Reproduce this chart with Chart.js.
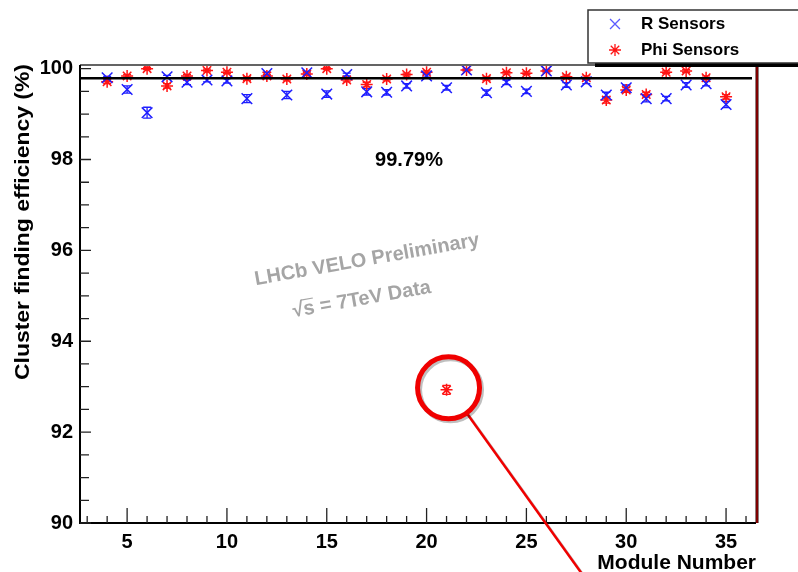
<!DOCTYPE html>
<html lang="en">
<head>
  <meta charset="UTF-8">
  <title>Cluster finding efficiency</title>
  <script src="https://cdn.jsdelivr.net/npm/chart.js"></script>
  <style>
    html, body { margin: 0; padding: 0; background: #fff; }
    canvas { display: block; }
  </style>
</head>
<body>
  <canvas id="effChart" width="798" height="572"></canvas>

  <script>
    // values
    const modules = [4, 5, 6, 7, 8, 9, 10, 11, 12, 13, 14, 15, 16, 17, 18, 19,
                     20, 21, 22, 23, 24, 25, 26, 27, 28, 29, 30, 31, 32, 33, 34, 35];
    const rEff   = [99.80, 99.54, 99.03, 99.82, 99.70, 99.75, 99.73, 99.34, 99.89, 99.42, 99.91, 99.44, 99.87, 99.49, 99.48, 99.62,
                    99.84, 99.58, 99.97, 99.47, 99.70, 99.50, 99.95, 99.64, 99.71, 99.42, 99.58, 99.34, 99.34, 99.64, 99.67, 99.21];
    const rErr   = [0.03, 0.08, 0.12, 0.03, 0.05, 0.04, 0.05, 0.09, 0.03, 0.08, 0.03, 0.07, 0.03, 0.07, 0.06, 0.05,
                    0.03, 0.05, 0.02, 0.06, 0.05, 0.05, 0.02, 0.05, 0.04, 0.06, 0.06, 0.07, 0.05, 0.05, 0.05, 0.07];
    const phiEff = [99.71, 99.84, 100.00, 99.62, 99.84, 99.96, 99.92, 99.78, 99.84, 99.77, 99.88, 100.00, 99.75, 99.65, 99.77, 99.87,
                    99.92, 92.93, 99.97, 99.78, 99.91, 99.90, 99.95, 99.82, 99.80, 99.31, 99.53, 99.43, 99.92, 99.95, 99.80, 99.38];
    const phiErr = [0.04, 0.03, 0.02, 0.05, 0.03, 0.03, 0.03, 0.04, 0.03, 0.04, 0.03, 0.02, 0.04, 0.05, 0.04, 0.03,
                    0.03, 0.10, 0.02, 0.04, 0.03, 0.03, 0.02, 0.04, 0.04, 0.07, 0.05, 0.05, 0.03, 0.03, 0.04, 0.05];
    const meanEff = 99.79;
    const badModule = 21;
    const xTicks = [5, 10, 15, 20, 25, 30, 35];
    const yTicks = [90, 92, 94, 96, 98, 100];

    const FONT = "'Liberation Sans', Arial, Helvetica, sans-serif";
    const BLUE = 'rgb(30, 30, 255)';
    const RED = 'rgb(255, 20, 20)';

    function points(vals, errs) {
      return modules.map((m, i) => ({ x: m, y: vals[i], err: errs[i] }));
    }

    // vertical error bars with end caps, ROOT style
    const errorBars = {
      id: 'errorBars',
      beforeDatasetsDraw(chart) {
        const { ctx, scales: { x, y } } = chart;
        chart.data.datasets.forEach((ds) => {
          ctx.save();
          ctx.strokeStyle = ds.borderColor;
          ctx.lineWidth = 1.3;
          ds.data.forEach((p) => {
            const px = x.getPixelForValue(p.x);
            const top = y.getPixelForValue(p.y + p.err);
            const bot = y.getPixelForValue(p.y - p.err);
            ctx.beginPath();
            ctx.moveTo(px, top); ctx.lineTo(px, bot);
            ctx.moveTo(px - 4, top); ctx.lineTo(px + 4, top);
            ctx.moveTo(px - 4, bot); ctx.lineTo(px + 4, bot);
            ctx.stroke();
          });
          ctx.restore();
        });
      }
    };

    // frame, ticks, mean line, labels, legend and the highlight circle
    const overlay = {
      id: 'overlay',
      afterDraw(chart) {
        const { ctx, chartArea: a, scales: { x, y } } = chart;
        ctx.save();

        // top frame line (grey)
        ctx.strokeStyle = 'rgb(100,100,100)';
        ctx.lineWidth = 2;
        ctx.beginPath(); ctx.moveTo(a.left, a.top); ctx.lineTo(a.right, a.top); ctx.stroke();

        // left and bottom axis lines
        ctx.strokeStyle = '#000';
        ctx.lineWidth = 2;
        ctx.beginPath();
        ctx.moveTo(a.left, a.top); ctx.lineTo(a.left, a.bottom); ctx.lineTo(a.right, a.bottom);
        ctx.stroke();

        // inward ticks
        ctx.lineWidth = 1.3;
        ctx.strokeStyle = '#222';
        ctx.beginPath();
        for (let v = 90; v <= 100.001; v += 0.5) {
          const py = y.getPixelForValue(v);
          const len = (Math.abs(v % 2) < 0.01) ? 11 : 9;
          ctx.moveTo(a.left, py); ctx.lineTo(a.left + len, py);
        }
        for (let v = 3; v <= 36; v += 1) {
          const px = x.getPixelForValue(v);
          const len = (v % 5 === 0) ? 15 : 7;
          ctx.moveTo(px, a.bottom); ctx.lineTo(px, a.bottom - len);
        }
        ctx.stroke();

        // right frame line (red with dark edges)
        ctx.strokeStyle = '#200';
        ctx.lineWidth = 3;
        ctx.beginPath(); ctx.moveTo(a.right + 1, a.top); ctx.lineTo(a.right + 1, a.bottom); ctx.stroke();
        ctx.strokeStyle = 'rgb(220,0,0)';
        ctx.lineWidth = 1;
        ctx.beginPath(); ctx.moveTo(a.right + 1, a.top); ctx.lineTo(a.right + 1, a.bottom); ctx.stroke();

        // mean line
        const my = y.getPixelForValue(meanEff);
        ctx.strokeStyle = '#000';
        ctx.lineWidth = 2.5;
        ctx.beginPath(); ctx.moveTo(a.left, my); ctx.lineTo(a.right - 4, my); ctx.stroke();

        // texts
        ctx.fillStyle = '#000';
        ctx.font = 'bold 20px ' + FONT;
        ctx.textAlign = 'center';
        ctx.textBaseline = 'middle';
        ctx.fillText(meanEff.toFixed(2) + '%', 409, 160);

        ctx.font = 'bold 21px ' + FONT;
        ctx.textAlign = 'right';
        ctx.textBaseline = 'alphabetic';
        ctx.fillText('Module Number', a.right, 569);

        // y title, stretched to the reference length
        ctx.save();
        ctx.translate(29, 222);
        ctx.rotate(-Math.PI / 2);
        ctx.font = 'bold 20px ' + FONT;
        const yt = 'Cluster finding efficiency (%)';
        const sc = 316 / ctx.measureText(yt).width;
        ctx.scale(sc, 1);
        ctx.textAlign = 'center';
        ctx.textBaseline = 'alphabetic';
        ctx.fillText(yt, 0, 0);
        ctx.restore();

        // watermark
        ctx.save();
        ctx.fillStyle = 'rgb(165,165,165)';
        ctx.strokeStyle = 'rgb(165,165,165)';
        ctx.font = 'bold 20px ' + FONT;
        ctx.textAlign = 'center';
        ctx.textBaseline = 'middle';
        ctx.translate(367, 260);
        ctx.rotate(-10 * Math.PI / 180);
        ctx.fillText('LHCb VELO Preliminary', 0, 0);
        ctx.translate(-12, 38);
        const wm = '\u221As = 7TeV Data';
        ctx.fillText(wm, 0, 0);
        const w0 = ctx.measureText(wm).width;
        const wRoot = ctx.measureText('\u221A').width;
        const wS = ctx.measureText('s').width;
        ctx.lineWidth = 1.2;
        ctx.beginPath();
        ctx.moveTo(-w0 / 2 + wRoot - 1, -10); ctx.lineTo(-w0 / 2 + wRoot + wS, -10);
        ctx.stroke();
        ctx.restore();

        // highlight circle around the bad module
        const cx = x.getPixelForValue(badModule) + 2;
        const cy = y.getPixelForValue(phiEff[modules.indexOf(badModule)]) - 2;
        const r = 31;
        const ang = Math.atan2(184, 132);
        ctx.save();
        ctx.strokeStyle = 'rgb(240,0,0)';
        ctx.shadowColor = 'rgba(0,0,0,0.25)';
        ctx.shadowOffsetX = 2;
        ctx.shadowOffsetY = 2;
        ctx.lineWidth = 2.5;
        ctx.beginPath();
        ctx.moveTo(cx + r * Math.cos(ang), cy + r * Math.sin(ang));
        ctx.lineTo(cx + 260 * Math.cos(ang), cy + 260 * Math.sin(ang));
        ctx.stroke();
        ctx.lineWidth = 5;
        ctx.beginPath(); ctx.arc(cx, cy, r, 0, Math.PI * 2); ctx.stroke();
        ctx.restore();

        // legend box
        ctx.fillStyle = '#000';
        ctx.fillRect(595, 62, 210, 5);
        ctx.fillStyle = '#fff';
        ctx.fillRect(588, 10, 220, 53);
        ctx.strokeStyle = '#333';
        ctx.lineWidth = 1.5;
        ctx.strokeRect(588, 10, 220, 53);

        ctx.strokeStyle = 'rgb(90,90,255)';
        ctx.lineWidth = 1.3;
        Chart.helpers.drawPoint(ctx, { pointStyle: 'crossRot', radius: 7, borderWidth: 1.3 }, 615, 24);
        ctx.strokeStyle = RED;
        Chart.helpers.drawPoint(ctx, { pointStyle: 'star', radius: 6, borderWidth: 1.3 }, 615, 50);

        ctx.fillStyle = '#000';
        ctx.font = 'bold 17px ' + FONT;
        ctx.textAlign = 'left';
        ctx.textBaseline = 'middle';
        ctx.fillText('R Sensors', 641, 24);
        ctx.fillText('Phi Sensors', 641, 50);

        ctx.restore();
      }
    };

    const ctx = document.getElementById('effChart').getContext('2d');
    const effChart = new Chart(ctx, {
      type: 'scatter',
      data: {
        datasets: [
          {
            label: 'R Sensors',
            data: points(rEff, rErr),
            pointStyle: 'crossRot',
            pointRadius: 7.5,
            pointHoverRadius: 7.5,
            pointBorderWidth: 1.5,
            borderColor: BLUE,
            backgroundColor: BLUE,
            order: 0
          },
          {
            label: 'Phi Sensors',
            data: points(phiEff, phiErr),
            pointStyle: 'star',
            pointRadius: 6,
            pointHoverRadius: 6,
            pointBorderWidth: 1.5,
            borderColor: RED,
            backgroundColor: RED,
            order: 1
          }
        ]
      },
      options: {
        responsive: false,
        animation: false,
        layout: { padding: { top: 65, right: 42, left: 0, bottom: 0 } },
        plugins: {
          legend: { display: false },
          tooltip: { enabled: false }
        },
        scales: {
          x: {
            type: 'linear',
            min: 2.64,
            max: 36.5,
            grid: { display: false, drawTicks: false },
            border: { display: false },
            afterBuildTicks: (s) => { s.ticks = xTicks.map(v => ({ value: v })); },
            afterFit: (s) => { s.height = 49; },
            ticks: {
              padding: 7,
              color: '#000',
              maxRotation: 0,
              font: { family: FONT, weight: 'bold', size: 20 }
            }
          },
          y: {
            type: 'linear',
            min: 90,
            max: 100.08,
            grid: { display: false, drawTicks: false },
            border: { display: false },
            afterBuildTicks: (s) => { s.ticks = yTicks.map(v => ({ value: v })); },
            afterFit: (s) => { s.width = 80; },
            ticks: {
              padding: 7,
              color: '#000',
              font: { family: FONT, weight: 'bold', size: 20 }
            }
          }
        }
      },
      plugins: [errorBars, overlay]
    });
  </script>
</body>
</html>
